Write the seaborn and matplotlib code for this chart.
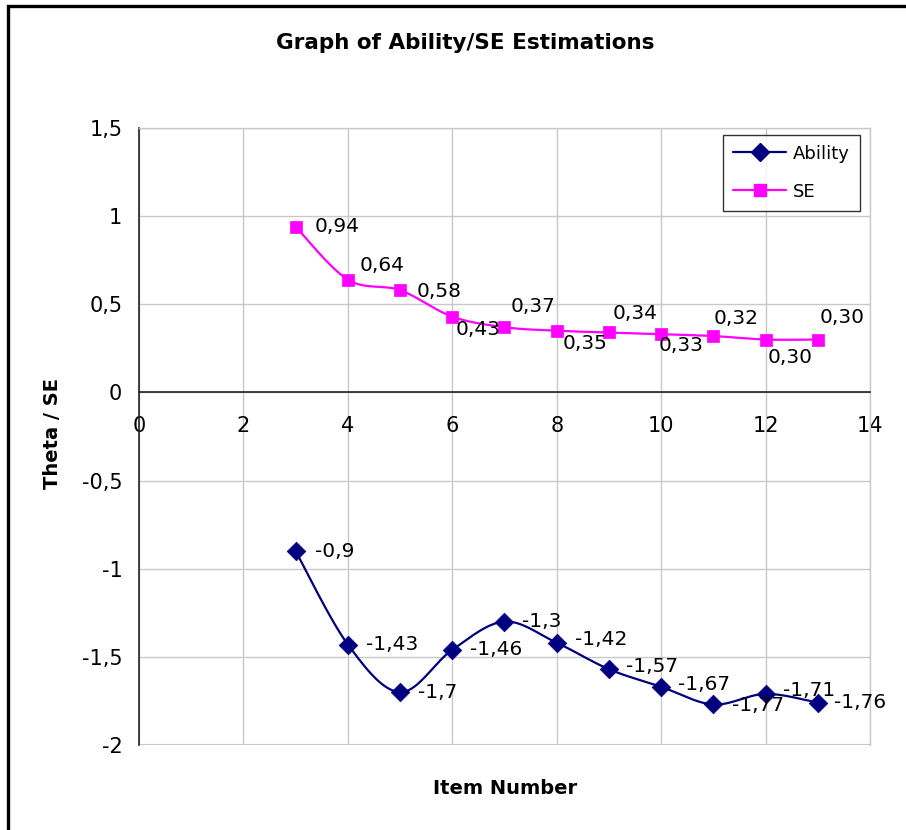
import numpy as np
import pandas as pd
import matplotlib
matplotlib.use("Agg")
import matplotlib.pyplot as plt
from matplotlib.lines import Line2D
from matplotlib.patches import Rectangle
from matplotlib.ticker import FuncFormatter, MultipleLocator
import seaborn as sns

# ---- data -------------------------------------------------------------
items = [3, 4, 5, 6, 7, 8, 9, 10, 11, 12, 13]
ability = [-0.9, -1.43, -1.7, -1.46, -1.3, -1.42, -1.57, -1.67, -1.77, -1.71, -1.76]
se = [0.94, 0.64, 0.58, 0.43, 0.37, 0.35, 0.34, 0.33, 0.32, 0.30, 0.30]
ability_labels = ["-0,9", "-1,43", "-1,7", "-1,46", "-1,3", "-1,42", "-1,57",
                  "-1,67", "-1,77", "-1,71", "-1,76"]
se_labels = ["0,94", "0,64", "0,58", "0,43", "0,37", "0,35", "0,34",
             "0,33", "0,32", "0,30", "0,30"]

# label offsets in pixels (dx, dy; dy positive = down)
ability_offsets = [(19, 0), (18, 0), (18, 0), (18, 0), (18, 0), (18, -3),
                   (17, -3), (17, -2), (19, 1), (17, -3), (16, 0)]
se_offsets = [(19, 0), (12, -14), (17, 1), (3, 13), (6, -21), (6, 13),
              (4, -19), (-3, 11), (0, -18), (2, 18), (2, -22)]

NAVY = "#000080"
MAGENTA = "#FF00FF"
FONT = ["DejaVu Sans"]


def smooth_curve(xs, ys, steps=40):
    """Cardinal (Catmull-Rom) Bezier smoothing through every point."""
    p = np.column_stack([xs, ys]).astype(float)
    n = len(p)
    out = []
    for i in range(n - 1):
        p0 = p[max(i - 1, 0)]
        p1 = p[i]
        p2 = p[i + 1]
        p3 = p[min(i + 2, n - 1)]
        c1 = p1 + (p2 - p0) / 6.0
        c2 = p2 - (p3 - p1) / 6.0
        t = np.linspace(0, 1, steps, endpoint=(i == n - 2))[:, None]
        seg = ((1 - t) ** 3) * p1 + 3 * ((1 - t) ** 2) * t * c1 \
            + 3 * (1 - t) * t ** 2 * c2 + t ** 3 * p2
        out.append(seg)
    out = np.vstack(out)
    return out[:, 0], out[:, 1]


sns.set_style("white")
plt.rcParams["font.family"] = FONT
plt.rcParams["text.color"] = "black"

fig = plt.figure(figsize=(9.06, 8.30), dpi=100)
ax = fig.add_axes([139 / 906, 85 / 830, 731 / 906, 617 / 830])

# outer chart frame (cut at right/bottom)
fig.patches.append(Rectangle((8 / 906, -0.1), 1.2, (830 - 6) / 830 + 0.1,
                             transform=fig.transFigure, fill=False,
                             edgecolor="black", linewidth=2.4, zorder=10))

sx, sy = smooth_curve(items, ability)
ex, ey = smooth_curve(items, se)
ability_curve = pd.DataFrame({"x": sx, "y": sy})
se_curve = pd.DataFrame({"x": ex, "y": ey})
points = pd.DataFrame({"x": items, "ability": ability, "se": se})

sns.lineplot(data=ability_curve, x="x", y="y", ax=ax, color=NAVY, lw=1.6,
             sort=False, estimator=None, zorder=3)
sns.lineplot(data=se_curve, x="x", y="y", ax=ax, color=MAGENTA, lw=1.6,
             sort=False, estimator=None, zorder=3)
sns.scatterplot(data=points, x="x", y="ability", ax=ax, marker="D", s=90,
                color=NAVY, edgecolor=NAVY, linewidth=0.5, zorder=4)
sns.scatterplot(data=points, x="x", y="se", ax=ax, marker="s", s=85,
                color=MAGENTA, edgecolor=MAGENTA, linewidth=0.5, zorder=4)

for xv, yv, txt, (dx, dy) in zip(items, ability, ability_labels, ability_offsets):
    ax.annotate(txt, (xv, yv), xytext=(dx * 0.72, -dy * 0.72),
                textcoords="offset points", ha="left", va="center",
                fontsize=14.5, color="black", zorder=5)
for xv, yv, txt, (dx, dy) in zip(items, se, se_labels, se_offsets):
    ax.annotate(txt, (xv, yv), xytext=(dx * 0.72, -dy * 0.72),
                textcoords="offset points", ha="left", va="center",
                fontsize=14.5, color="black", zorder=5)

# axes layout
ax.set_xlim(0, 14)
ax.set_ylim(-2, 1.5)
ax.xaxis.set_major_locator(MultipleLocator(2))
ax.yaxis.set_major_locator(MultipleLocator(0.5))


def comma_fmt(v, pos):
    s = "%g" % round(v, 2)
    return s.replace(".", ",")


ax.yaxis.set_major_formatter(FuncFormatter(comma_fmt))
ax.xaxis.set_major_formatter(FuncFormatter(comma_fmt))

ax.grid(True, color="#c8c8c8", linewidth=1)
ax.set_axisbelow(True)
for side in ("top", "right"):
    ax.spines[side].set_visible(True)
    ax.spines[side].set_color("#c8c8c8")
    ax.spines[side].set_linewidth(1)
ax.spines["left"].set_color("#222222")
ax.spines["left"].set_linewidth(1.2)
ax.spines["bottom"].set_position(("data", 0))
ax.spines["bottom"].set_color("#222222")
ax.spines["bottom"].set_linewidth(1.2)
ax.axhline(-2, color="#c8c8c8", lw=1.5, zorder=0)

ax.tick_params(axis="both", which="major", labelsize=15, colors="black",
               direction="out", length=5, width=1)
ax.tick_params(axis="y", pad=7)
ax.tick_params(axis="x", pad=12)

ax.set_xlabel("")
ax.set_ylabel("")
fig.text(52 / 906, 1 - 433 / 830, "Theta / SE", rotation=90, ha="center",
         va="center", fontsize=14, fontweight="bold", color="black")
fig.text(505 / 906, 1 - 788 / 830, "Item Number", ha="center", va="center",
         fontsize=14, fontweight="bold", color="black")
fig.text(465 / 906, 1 - 43 / 830, "Graph of Ability/SE Estimations",
         ha="center", va="center", fontsize=15.5, fontweight="bold",
         color="black")

handles = [
    Line2D([0], [0], color=NAVY, lw=1.6, marker="D", markersize=9.5,
           markerfacecolor=NAVY, markeredgecolor=NAVY),
    Line2D([0], [0], color=MAGENTA, lw=1.6, marker="s", markersize=9,
           markerfacecolor=MAGENTA, markeredgecolor=MAGENTA),
]
leg = ax.legend(handles, ["Ability", "SE"], loc="upper right",
                bbox_to_anchor=(0.986, 0.989), borderaxespad=0,
                fontsize=13, frameon=True, fancybox=False, handlelength=2.9,
                labelspacing=1.1, borderpad=0.55, handletextpad=0.4,
                labelcolor="black")
leg.get_frame().set_edgecolor("black")
leg.get_frame().set_linewidth(1)

fig.savefig("out.png", dpi=100)
